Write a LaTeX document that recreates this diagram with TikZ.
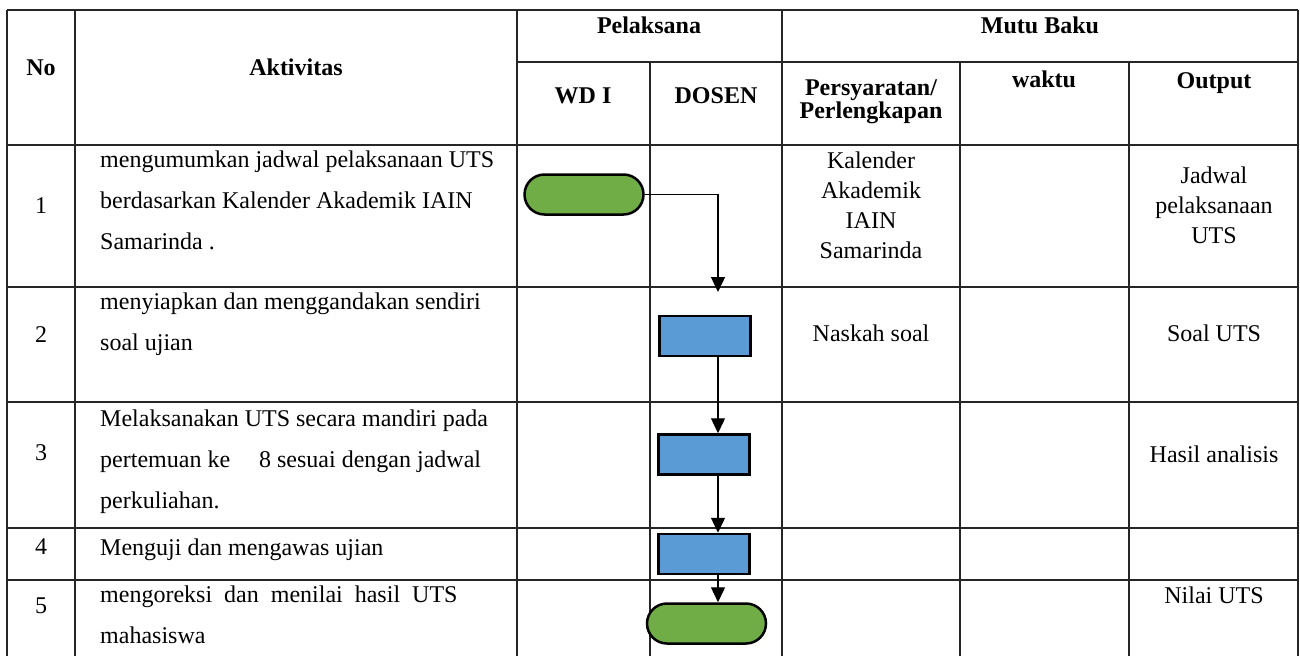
\documentclass[tikz,border=0pt]{standalone}
\usepackage{fontspec}
\setmainfont{Liberation Serif}
\usetikzlibrary{arrows.meta}
\definecolor{termgreen}{HTML}{70AD47}
\definecolor{procblue}{HTML}{5B9BD5}
\begin{document}
\begin{tikzpicture}[x=1pt,y=-1pt,
  tableline/.style={line width=1.1pt,black!85},
  term/.style={draw,line width=2.5pt,fill=termgreen,rounded corners=20pt,minimum width=119pt,minimum height=40pt,inner sep=0pt},
  proc/.style={draw,line width=2.5pt,fill=procblue,minimum width=91pt,minimum height=40pt,inner sep=0pt},
  flow/.style={-{Triangle[length=15pt,width=14pt]},line width=1.4pt},
  hd/.style={font=\bfseries\fontsize{24}{23.5}\selectfont,inner sep=0pt,align=center},
  txt/.style={font=\fontsize{24}{41}\selectfont,inner sep=0pt,align=left,anchor=north west},
  side/.style={font=\fontsize{24}{30}\selectfont,inner sep=0pt,align=center,anchor=north}]
\useasboundingbox (0,0) rectangle (1300,656);
% table
\draw[tableline] (7,10) -- (1298,10);
\draw[tableline] (517,62) -- (1298,62);
\foreach \y in {145,287,402,528,580} \draw[tableline] (7,\y) -- (1298,\y);
\foreach \x in {7,75,517,782,1298} \draw[tableline] (\x,10) -- (\x,656);
\foreach \x in {650,960,1129} \draw[tableline] (\x,62) -- (\x,656);
% header
\node[hd,anchor=base] (hno) at (41,75) {No};
\node[hd,anchor=base] (hakt) at (296,75) {Aktivitas};
\node[hd,anchor=base] (hpel) at (649,33) {Pelaksana};
\node[hd,anchor=base] (hmutu) at (1040,33) {Mutu Baku};
\node[hd,anchor=base] (hwd) at (583,103) {WD I};
\node[hd,anchor=base] (hdos) at (716,103) {DOSEN};
\node[hd,anchor=north] (hsyarat) at (871,79) {Persyaratan/\\Perlengkapan};
\node[hd,anchor=base] (hwaktu) at (1044,87) {waktu};
\node[hd,anchor=base] (hout) at (1214,88) {Output};
% numbers
\node[font=\fontsize{24}{24}\selectfont,anchor=base] (n1) at (41,213) {1};
\node[font=\fontsize{24}{24}\selectfont,anchor=base] (n2) at (41,342) {2};
\node[font=\fontsize{24}{24}\selectfont,anchor=base] (n3) at (41,460) {3};
\node[font=\fontsize{24}{24}\selectfont,anchor=base] (n4) at (41,554) {4};
\node[font=\fontsize{24}{24}\selectfont,anchor=base] (n5) at (41,613) {5};
% activities
\node[txt] (a1) at (100,150.6) {mengumumkan jadwal pelaksanaan UTS\\berdasarkan Kalender Akademik IAIN\\Samarinda .};
\node[txt] (a2) at (100,292.6) {menyiapkan dan menggandakan sendiri\\soal ujian};
\node[txt] (a3) at (100,409.6) {Melaksanakan UTS secara mandiri pada\\pertemuan ke\hspace{29pt}8 sesuai dengan jadwal\\perkuliahan.};
\node[txt] (a4) at (100,538.6) {Menguji dan mengawas ujian};
\node[txt] (a5) at (100,585.6) {mengoreksi\ \ dan\ \ menilai\ \ hasil\ \ UTS\\mahasiswa};
% mutu baku
\node[side] (s1) at (871,151.6) {Kalender\\Akademik\\IAIN\\Samarinda};
\node[side] (s2) at (871,324.6) {Naskah soal};
\node[side] (o1) at (1214,166.6) {Jadwal\\pelaksanaan\\UTS};
\node[side] (o2) at (1214,324.6) {Soal UTS};
\node[side] (o3) at (1214,445.6) {Hasil analisis};
\node[side] (o5) at (1214,586.6) {Nilai UTS};
% flow
\node[term] (t1) at (584,194.5) {};
\node[proc] (b2) at (705,336) {};
\node[proc] (b3) at (704,454.5) {};
\node[proc] (b4) at (704,554) {};
\node[term] (t5) at (706.5,623.5) {};
\coordinate (c1) at (718,292);
\draw[flow] (t1.east) -| (c1);
\draw[flow] (b2.south -| c1) -- (b3.north -| c1);
\draw[flow] (b3.south -| c1) -- (b4.north -| c1);
\draw[flow] (b4.south -| c1) -- (t5.north -| c1);
\end{tikzpicture}
\end{document}
